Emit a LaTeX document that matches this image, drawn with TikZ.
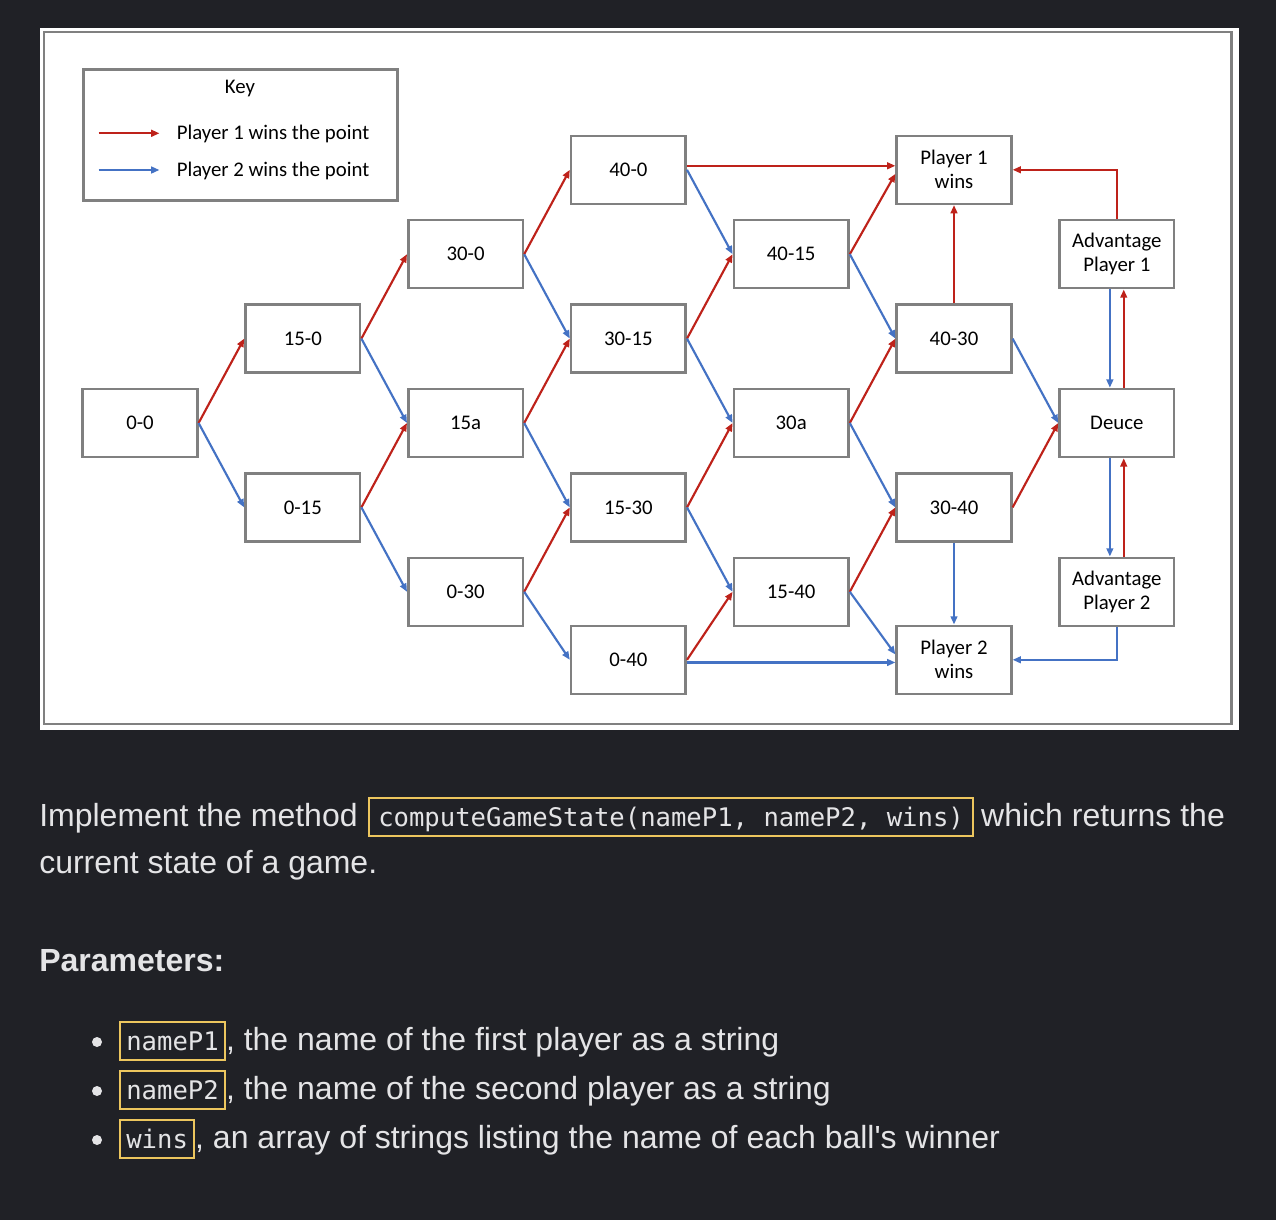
\documentclass[tikz,border=0pt]{standalone}
\usepackage{fontspec}
\setmainfont{Carlito}
\newfontfamily\bodyfont{Liberation Sans}
\newfontfamily\codefont{DejaVu Sans Mono}
\usetikzlibrary{arrows.meta,positioning}

\definecolor{pagedark}{RGB}{32,33,38}
\definecolor{boxgray}{RGB}{128,128,128}
\definecolor{winred}{RGB}{190,34,26}
\definecolor{winblue}{RGB}{68,114,196}
\definecolor{codeyellow}{RGB}{236,198,94}
\definecolor{bodygray}{RGB}{228,228,230}

\begin{document}
\begin{tikzpicture}[x=0.75pt,y=-0.75pt,>={Triangle[length=6.2pt,width=5pt]},
    node distance=63.3pt and 122.1pt,
    score/.style={draw=boxgray,line width=1.9pt,fill=white,minimum width=86pt,
        minimum height=51pt,inner sep=1pt,align=center,
        font=\fontsize{15.6}{18}\selectfont,on grid},
    p1/.style={->,draw=winred,line width=1.6pt},
    p2/.style={->,draw=winblue,line width=1.6pt},
    keytext/.style={inner sep=0pt,font=\fontsize{15.6}{18}\selectfont},
    bodytext/.style={inner sep=0pt,text=bodygray,font=\bodyfont\fontsize{24}{29}\selectfont},
    codebox/.style={draw=codeyellow,line width=1.5pt,inner xsep=4.5pt,inner ysep=0pt,
        text height=21pt,text depth=7.5pt,text=bodygray,
        font=\codefont\fontsize{19.2}{23}\selectfont},
    bulletdot/.style={circle,fill=bodygray,minimum size=7.5pt,inner sep=0pt}]

    % page and panel
    \useasboundingbox (0,0) rectangle (1276,1220);
    \fill[pagedark] (0,0) rectangle (1276,1220);
    \fill[white] (40,28) rectangle (1239,729.5);
    \draw[boxgray,line width=1.9pt] (44,32) rectangle (1231.5,724);

    % key
    \node[draw=boxgray,line width=1.9pt,minimum width=235.8pt,minimum height=98.3pt,inner sep=0pt]
        (keybox) at (240.5,134.8) {};
    \node[keytext,anchor=base] (keytitle) at (240,94) {Key};
    \coordinate (keyredA) at (98.5,133.3);
    \coordinate (keyredB) at (159.5,133.3);
    \coordinate (keyblueA) at (98.5,170);
    \coordinate (keyblueB) at (159.5,170);
    \draw[p1] (keyredA) -- (keyredB);
    \draw[p2] (keyblueA) -- (keyblueB);
    \node[keytext,anchor=base west] (keyred) at (176.5,139.3) {Player 1 wins the point};
    \node[keytext,anchor=base west] (keyblue) at (176.5,176) {Player 2 wins the point};

    % scores
    \node[score] (n00) at (140,423) {0-0};
    \node[score] (n150) [above right=of n00] {15-0};
    \node[score] (n015) [below right=of n00] {0-15};
    \node[score] (n300) [above right=of n150] {30-0};
    \node[score] (n15a) [below right=of n150] {15a};
    \node[score] (n030) [below right=of n015] {0-30};
    \node[score] (n400) [above right=of n300] {40-0};
    \node[score] (n3015) [below right=of n300] {30-15};
    \node[score] (n1530) [below right=of n15a] {15-30};
    \node[score] (n040) [below right=51pt and 122.1pt of n030] {0-40};
    \node[score] (n4015) [below right=of n400] {40-15};
    \node[score] (n30a) [below right=of n3015] {30a};
    \node[score] (n1540) [below right=of n1530] {15-40};
    \node[score] (p1wins) [above right=of n4015] {Player 1\\wins};
    \node[score] (n4030) [below right=of n4015] {40-30};
    \node[score] (n3040) [above right=of n1540] {30-40};
    \node[score] (p2wins) [below right=51pt and 122.1pt of n1540] {Player 2\\wins};
    \node[score] (adv1) [above right=of n4030] {Advantage\\Player 1};
    \node[score] (deuce) [below right=of n4030] {Deuce};
    \node[score] (adv2) [below right=of n3040] {Advantage\\Player 2};

    \path (n00.east) edge[p1] (n150.west);
    \path (n00.east) edge[p2] (n015.west);
    \path (n150.east) edge[p1] (n300.west);
    \path (n150.east) edge[p2] (n15a.west);
    \path (n015.east) edge[p1] (n15a.west);
    \path (n015.east) edge[p2] (n030.west);
    \path (n300.east) edge[p1] (n400.west);
    \path (n300.east) edge[p2] (n3015.west);
    \path (n15a.east) edge[p1] (n3015.west);
    \path (n15a.east) edge[p2] (n1530.west);
    \path (n030.east) edge[p1] (n1530.west);
    \path (n030.east) edge[p2] (n040.west);
    \path ([yshift=3pt]n400.east) edge[p1] ([yshift=3pt]p1wins.west);
    \path (n400.east) edge[p2] (n4015.west);
    \path (n3015.east) edge[p1] (n4015.west);
    \path (n3015.east) edge[p2] (n30a.west);
    \path (n1530.east) edge[p1] (n30a.west);
    \path (n1530.east) edge[p2] (n1540.west);
    \path (n040.east) edge[p1] (n1540.west);
    \path ([yshift=-2pt]n040.east) edge[p2] ([yshift=-2pt]p2wins.west);
    \path (n4015.east) edge[p1] ([yshift=-3pt]p1wins.west);
    \path (n4015.east) edge[p2] (n4030.west);
    \path (n30a.east) edge[p1] (n4030.west);
    \path (n30a.east) edge[p2] (n3040.west);
    \path (n1540.east) edge[p1] (n3040.west);
    \path (n1540.east) edge[p2] ([yshift=4pt]p2wins.west);
    \path (n4030.north) edge[p1] (p1wins.south);
    \path (n4030.east) edge[p2] (deuce.west);
    \path (n3040.east) edge[p1] (deuce.west);
    \path (n3040.south) edge[p2] (p2wins.north);
    \draw[p1] (adv1.north) |- (p1wins.east);
    \path ([xshift=-5.2pt]adv1.south) edge[p2] ([xshift=-5.2pt]deuce.north);
    \path ([xshift=5.2pt]deuce.north) edge[p1] ([xshift=5.2pt]adv1.south);
    \path ([xshift=-5.2pt]deuce.south) edge[p2] ([xshift=-5.2pt]adv2.north);
    \path ([xshift=5.2pt]adv2.north) edge[p1] ([xshift=5.2pt]deuce.south);
    \draw[p2] (adv2.south) |- (p2wins.east);

    % text below the panel
    \node[bodytext,anchor=base west] (implement) at (39,826) {Implement the method};
    \node[codebox,inner xsep=7pt,base right=7.5pt of implement] (signature) {computeGameState(nameP1, nameP2, wins)};
    \node[bodytext,base right=5pt of signature] (returns) {which returns the};
    \node[bodytext,anchor=base west] (current) at (39,873) {current state of a game.};
    \node[bodytext,font=\bodyfont\bfseries\fontsize{24}{29}\selectfont,anchor=base west]
        (params) at (39,971) {Parameters:};

    \node[bulletdot] (dotone) at (97,1042) {};
    \node[codebox,anchor=base west] (argone) at (119.3,1050) {nameP1};
    \node[bodytext,base right=0pt of argone] (textone) {, the name of the first player as a string};
    \node[bulletdot] (dottwo) at (97,1091) {};
    \node[codebox,anchor=base west] (argtwo) at (119.3,1099) {nameP2};
    \node[bodytext,base right=0pt of argtwo] (texttwo) {, the name of the second player as a string};
    \node[bulletdot] (dotthree) at (97,1140) {};
    \node[codebox,anchor=base west] (argthree) at (119.3,1148) {wins};
    \node[bodytext,base right=0pt of argthree] (textthree) {, an array of strings listing the name of each ball\textquotesingle s winner};
\end{tikzpicture}
\end{document}
